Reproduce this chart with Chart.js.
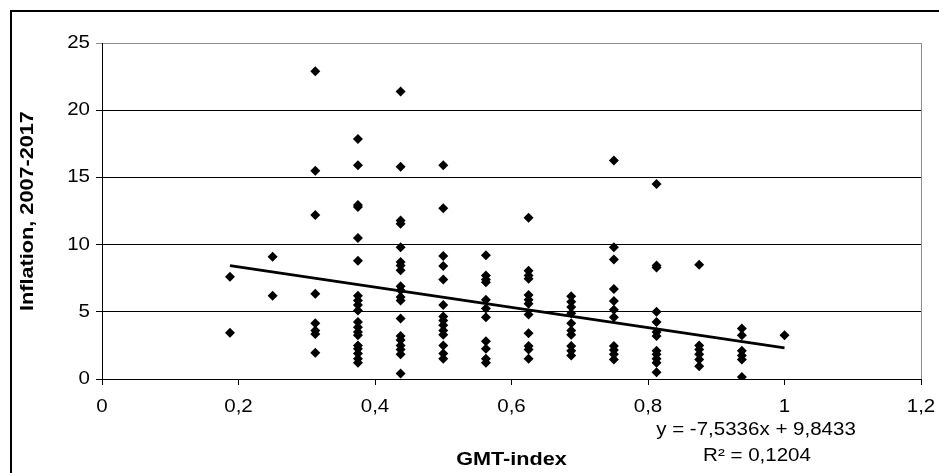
<!DOCTYPE html>
<html>
<head>
<meta charset="utf-8">
<script src="https://cdn.jsdelivr.net/npm/chart.js@4.4.1/dist/chart.umd.min.js"></script>
<style>
  html, body { margin: 0; padding: 0; background: #fff; }
  #chart { display: block; }
</style>
</head>
<body>
<canvas id="chart" width="939" height="473"></canvas>
<script>
// --- Data ---
const gmtIndex = [0.1875, 0.25, 0.3125, 0.375, 0.4375, 0.5, 0.5625, 0.625, 0.6875, 0.75, 0.8125, 0.875, 0.9375, 1.0];
// inflation values for each GMT level, same order as gmtIndex
const inflation = [
  [7.6, 3.45],
  [9.1, 6.2],
  [22.9, 15.5, 12.2, 6.35, 4.15, 3.6, 3.35, 1.95],
  [17.85, 15.9, 12.95, 12.8, 10.5, 8.8, 6.2, 5.85, 5.5, 5.1, 4.25, 3.85, 3.5, 3.25, 2.5, 2.25, 1.9, 1.5, 1.2],
  [21.4, 15.8, 11.8, 11.55, 9.8, 8.7, 8.45, 8.1, 6.9, 6.6, 6.1, 5.85, 4.5, 3.2, 2.9, 2.5, 2.2, 1.85, 0.4],
  [15.9, 12.7, 9.15, 8.4, 7.4, 5.5, 4.65, 4.35, 4.0, 3.6, 3.3, 2.5, 1.9, 1.5],
  [9.2, 7.7, 7.4, 7.2, 5.9, 5.25, 4.6, 2.8, 2.25, 1.5, 1.2],
  [12.0, 8.05, 7.7, 7.45, 6.25, 5.9, 5.6, 4.8, 3.4, 2.45, 2.2, 1.5],
  [6.15, 5.75, 5.35, 4.9, 4.15, 3.6, 3.3, 2.45, 2.1, 1.75],
  [16.25, 9.8, 8.9, 6.7, 5.8, 5.15, 4.6, 2.45, 2.15, 1.85, 1.45],
  [14.5, 8.45, 8.3, 5.0, 4.25, 3.5, 3.2, 2.1, 1.85, 1.5, 1.2, 0.5],
  [8.5, 2.5, 2.2, 1.85, 1.45, 0.95],
  [3.75, 3.25, 2.1, 1.75, 1.45, 0.15],
  [3.25]
];
const xTickValues = [0, 0.2, 0.4, 0.6, 0.8, 1, 1.2];
const xTickLabels = ["0", "0,2", "0,4", "0,6", "0,8", "1", "1,2"];
const yTickValues = [0, 5, 10, 15, 20, 25];
const trendSlope = -7.5336;
const trendIntercept = 9.8433;
const trendText = ["y = -7,5336x + 9,8433", "R\u00B2 = 0,1204"];

const FONT = "'Liberation Sans', Arial, sans-serif";
Chart.defaults.font.family = FONT;
Chart.defaults.color = "#000";

// The original uses wide, stretched lettering: widen text along its direction
const canvas = document.getElementById("chart");
const ctx = canvas.getContext("2d");
const TEXT_STRETCH = 1.14;
const nativeFill = ctx.fillText.bind(ctx);
const nativeMeasure = ctx.measureText.bind(ctx);
ctx.fillText = function (text, x, y) {
  ctx.save();
  ctx.translate(x, y);
  ctx.scale(TEXT_STRETCH, 1);
  nativeFill(text, 0, 0);
  ctx.restore();
};
ctx.measureText = function (text) {
  const m = nativeMeasure(text);
  return {
    width: m.width * TEXT_STRETCH,
    actualBoundingBoxAscent: m.actualBoundingBoxAscent,
    actualBoundingBoxDescent: m.actualBoundingBoxDescent,
  };
};

const points = gmtIndex.flatMap((g, i) => inflation[i].map((v) => ({ x: g, y: v })));
const xMin = Math.min(...gmtIndex);
const xMax = Math.max(...gmtIndex);
const trendPoints = [xMin, xMax].map((x) => ({ x: x, y: trendSlope * x + trendIntercept }));

// --- Frame, plot box and trendline label ---
const frame = {
  id: "frame",
  beforeDraw(chart) {
    const c = chart.ctx;
    const a = chart.chartArea;
    c.save();
    c.fillStyle = "#fff";
    c.fillRect(0, 0, chart.width, chart.height);
    c.strokeStyle = "#000";
    c.lineWidth = 2;
    c.beginPath();
    c.moveTo(11, chart.height);
    c.lineTo(11, 11);
    c.lineTo(chart.width, 11);
    c.stroke();
    c.strokeStyle = "#8c8c8c";
    c.lineWidth = 1;
    c.strokeRect(Math.round(a.left) + 0.5, Math.round(a.top) + 0.5,
      Math.round(a.right - a.left), Math.round(a.bottom - a.top));
    c.restore();
  },
  afterDraw(chart) {
    const c = chart.ctx;
    const a = chart.chartArea;
    c.save();
    c.fillStyle = "#000";
    c.font = "18px " + FONT;
    c.textAlign = "center";
    c.textBaseline = "middle";
    c.fillText(trendText[0], a.right - 165, a.bottom + 51);
    c.fillText(trendText[1], a.right - 164, a.bottom + 77);
    c.restore();
  },
};

new Chart(canvas, {
  type: "scatter",
  data: {
    datasets: [
      {
        label: "Trend",
        data: trendPoints,
        showLine: true,
        borderColor: "#000",
        borderWidth: 2.8,
        pointRadius: 0,
        order: 0,
      },
      {
        label: "Inflation",
        data: points,
        pointStyle: "rectRot",
        pointRadius: 5,
        backgroundColor: "#000",
        borderWidth: 0,
        order: 1,
      },
    ],
  },
  options: {
    responsive: false,
    animation: false,
    layout: { padding: { top: 43, right: 0, left: 0, bottom: 0 } },
    plugins: {
      legend: { display: false },
      tooltip: { enabled: false },
    },
    scales: {
      x: {
        type: "linear",
        min: 0,
        max: 1.2,
        afterBuildTicks: (s) => { s.ticks = xTickValues.map((v) => ({ value: v })); },
        afterFit: (s) => {
          s.height = 94;
          s.paddingRight = 18;
        },
        grid: { drawOnChartArea: false, color: "#000", tickLength: 6 },
        border: { color: "#000", width: 1 },
        ticks: {
          callback: (v, i) => xTickLabels[i],
          padding: 11,
          maxRotation: 0,
          autoSkip: false,
          font: { size: 18 },
        },
        title: {
          display: true,
          text: "GMT-index",
          font: { size: 19, weight: "bold" },
          padding: { top: 0, bottom: 2 },
        },
      },
      y: {
        min: 0,
        max: 25,
        afterBuildTicks: (s) => { s.ticks = yTickValues.map((v) => ({ value: v })); },
        afterFit: (s) => { s.width = 102; },
        grid: {
          color: (c) => (c.tick && c.tick.value === 25 ? "#8c8c8c" : "#000"),
          tickLength: 6,
        },
        border: { color: "#000", width: 1 },
        ticks: { padding: 6, font: { size: 18 } },
        title: {
          display: true,
          text: "Inflation, 2007-2017",
          font: { size: 19, weight: "bold" },
          padding: { top: 16, bottom: 0 },
        },
      },
    },
  },
  plugins: [frame],
});
</script>
</body>
</html>
